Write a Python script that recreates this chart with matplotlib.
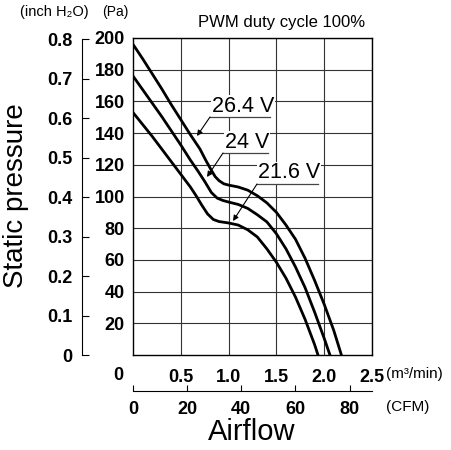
import numpy as np
import matplotlib
matplotlib.use("Agg")
import matplotlib.pyplot as plt

# P-Q curves (m3/min, Pa)
flow_264 = [0, 0.1, 0.2, 0.3, 0.4, 0.5, 0.6, 0.7, 0.76, 0.82, 0.86, 0.9, 0.95, 1.0, 1.1, 1.2, 1.3, 1.4,
            1.5, 1.6, 1.7, 1.8, 1.9, 2.0, 2.1, 2.18]
pres_264 = [196, 187, 177.5, 168, 158, 148.5, 139, 130, 123, 116.5, 112.5, 110, 108, 107.2, 106, 104, 100.5, 96,
            90, 82, 73, 61, 47, 32, 15.5, 0]

flow_24 = [0, 0.1, 0.2, 0.3, 0.4, 0.5, 0.6, 0.68, 0.75, 0.82, 0.88, 0.94, 1.0, 1.1, 1.2, 1.3, 1.4,
           1.5, 1.6, 1.7, 1.8, 1.9, 2.0, 2.06]
pres_24 = [176, 167.5, 159, 150.5, 141.5, 132.5, 123, 116, 109.5, 102.5, 99, 97.5, 96.5, 95, 92.5, 88.5, 84,
           76.5, 67, 55.5, 42.5, 27, 10.5, 0]

flow_216 = [0, 0.1, 0.2, 0.3, 0.4, 0.5, 0.6, 0.66, 0.72, 0.78, 0.84, 0.9, 1.0, 1.1, 1.2, 1.3, 1.4,
            1.5, 1.6, 1.7, 1.8, 1.9, 1.935]
pres_216 = [153, 145.5, 138, 130, 122, 114, 106, 100.5, 94.5, 89, 85.5, 84.2, 83.3, 82, 79, 74.5, 67,
            58.5, 48.5, 36.5, 22.5, 6.5, 0]

curve_labels = ["26.4 V", "24 V", "21.6 V"]

pa_ticks = [20, 40, 60, 80, 100, 120, 140, 160, 180, 200]
m3_ticks = [0.5, 1.0, 1.5, 2.0, 2.5]
inch_ticks = [0, 0.1, 0.2, 0.3, 0.4, 0.5, 0.6, 0.7, 0.8]
cfm_ticks = [0, 20, 40, 60, 80]

PA_PER_INCH = 249.09
CFM_PER_M3 = 35.3147

W, H = 451, 450
fig = plt.figure(figsize=(W / 100, H / 100), dpi=100)

# plot box in pixels
L, R, T, B = 133, 372, 38, 355
rect = [L / W, (H - B) / H, (R - L) / W, (B - T) / H]

num = ["Liberation Sans", "DejaVu Sans"]
sans = ["Liberation Sans", "DejaVu Sans"]
NUM_SIZE = 13


def fx(px):
    return px / W


def fy(py):
    return 1 - py / H


def to_data(px, py):
    return (px - L) / (R - L) * 2.5, (B - py) / (B - T) * 200


ax = fig.add_axes(rect)
ax.set_xlim(0, 2.5)
ax.set_ylim(0, 200)
ax.set_xticks(m3_ticks)
ax.set_xticklabels(["0.5", "1.0", "1.5", "2.0", "2.5"], family=num, fontsize=NUM_SIZE, weight="bold")
ax.set_yticks(pa_ticks)
ax.set_yticklabels([str(v) for v in pa_ticks], family=num, fontsize=NUM_SIZE, weight="bold")
ax.tick_params(axis="x", length=0, pad=10)
ax.tick_params(axis="y", length=0, pad=6)
ax.grid(True, color="#333333", lw=0.8)
for s in ax.spines.values():
    s.set_linewidth(1.0)

for fl, pr in [(flow_264, pres_264), (flow_24, pres_24), (flow_216, pres_216)]:
    ax.plot(fl, pr, color="black", lw=2.0, solid_joinstyle="round", zorder=3)

# curve labels with underline + leader arrow (positions in pixels)
label_pos = [(212, 106), (225, 142), (258, 173)]
under = [((210, 117), (270, 117)), ((223, 153), (268, 153)), ((257, 184), (318, 184))]
tips = [(197, 136), (207, 177), (233, 221)]
for txt, (tx, ty), ((ux0, uy0), (ux1, uy1)), (ax_, ay_) in zip(curve_labels, label_pos, under, tips):
    ax.text(*to_data(tx, ty), txt, family=sans, fontsize=15.5, ha="left", va="center",
            bbox=dict(fc="white", ec="none", pad=0.5), zorder=4)
    x0, y0 = to_data(ux0, uy0)
    x1, y1 = to_data(ux1, uy1)
    ax.plot([x0, x1], [y0, y1], color="#444444", lw=0.9, zorder=4)
    ax.annotate("", xy=to_data(ax_, ay_), xytext=(x0, y0),
                arrowprops=dict(arrowstyle="-|>", color="black", lw=0.8,
                                mutation_scale=8, shrinkA=0, shrinkB=0), zorder=5)

# inch H2O axis on the far left
ax_in = fig.add_axes(rect)
ax_in.patch.set_visible(False)
ax_in.set_ylim(0, 200 / PA_PER_INCH)
ax_in.set_xticks([])
for k in ["top", "right", "bottom"]:
    ax_in.spines[k].set_visible(False)
ax_in.spines["left"].set_position(("axes", (82 - L) / (R - L)))
ax_in.spines["left"].set_bounds(0, 0.8)
ax_in.set_yticks(inch_ticks)
ax_in.set_yticklabels(["0"] + [f"{v:.1f}" for v in inch_ticks[1:]], family=num, fontsize=NUM_SIZE, weight="bold")
ax_in.tick_params(axis="y", direction="in", length=5, pad=7)

# CFM axis below
ax_cfm = fig.add_axes(rect)
ax_cfm.patch.set_visible(False)
ax_cfm.set_xlim(0, 2.5 * CFM_PER_M3)
ax_cfm.set_yticks([])
for k in ["top", "right", "left"]:
    ax_cfm.spines[k].set_visible(False)
ax_cfm.spines["bottom"].set_position(("axes", -(391 - B) / (B - T)))
ax_cfm.spines["bottom"].set_bounds(0, 2.5 * CFM_PER_M3)
ax_cfm.set_xticks(cfm_ticks)
ax_cfm.set_xticklabels([str(v) for v in cfm_ticks], family=num, fontsize=NUM_SIZE, weight="bold")
ax_cfm.tick_params(axis="x", direction="in", length=4.5, pad=7)

# shared zero and unit texts
fig.text(fx(118), fy(375), "0", family=num, fontsize=NUM_SIZE, weight="bold", ha="center", va="center")
fig.text(fx(386), fy(374), "(m³/min)", family=sans, fontsize=11, ha="left", va="center")
fig.text(fx(386), fy(407), "(CFM)", family=sans, fontsize=11, ha="left", va="center")
fig.text(fx(20), fy(12), "(inch H₂O)", family=sans, fontsize=10.5, ha="left", va="center")
fig.text(fx(102), fy(12), "(Pa)", family=sans, fontsize=10, ha="left", va="center")
fig.text(fx(198), fy(22), "PWM duty cycle 100%", family=sans, fontsize=12, ha="left", va="center")
fig.text(fx(16), fy(196), "Static pressure", family=sans, fontsize=20, rotation=90, ha="center", va="center")
fig.text(fx(252), fy(432), "Airflow", family=sans, fontsize=21, ha="center", va="center")

fig.savefig("out.png", dpi=100)
